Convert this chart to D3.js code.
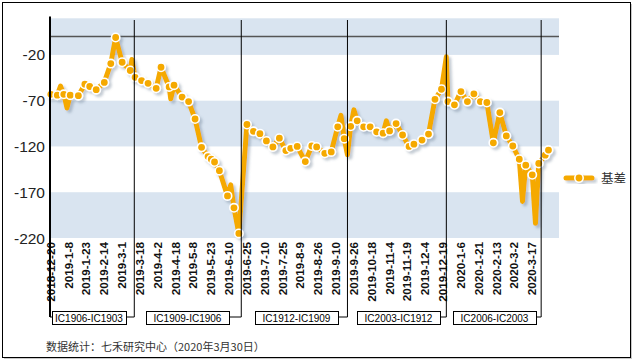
<!DOCTYPE html>
<html>
<head>
<meta charset="utf-8">
<script src="https://cdn.jsdelivr.net/npm/d3@7"></script>
<style>
  body { margin: 0; background: #fff; }
  svg { display: block; font-family: Arial, "Liberation Sans", sans-serif; }
</style>
</head>
<body>
<svg id="chart" width="636" height="362"></svg>
<script>
// 交易日序号（从2018-12-20起）
const dayCount = 314;

// x轴标签（每11个交易日一个）
const tickLabels = ["2018-12-20", "2019-1-8", "2019-1-23", "2019-2-14", "2019-3-1", "2019-3-18",
  "2019-4-2", "2019-4-18", "2019-5-8", "2019-5-23", "2019-6-10", "2019-6-25", "2019-7-10",
  "2019-7-25", "2019-8-9", "2019-8-26", "2019-9-10", "2019-9-26", "2019-10-18", "2019-11-4",
  "2019-11-19", "2019-12-4", "2019-12-19", "2020-1-6", "2020-1-21", "2020-2-13", "2020-3-2",
  "2020-3-17"];
const yTicks = [-220, -170, -120, -70, -20];

// 带标记的基差点
const markDay = [0, 4, 8, 12, 17, 21, 24, 28, 33, 37, 40, 44, 49, 52, 56, 60, 65, 68, 73, 76,
  81, 85, 89, 93, 97, 99, 101, 104, 109, 113, 116, 121, 125, 129, 133, 137, 141, 145, 148, 152,
  157, 161, 164, 169, 173, 177, 181, 185, 189, 193, 197, 201, 205, 209, 213, 217, 221, 224, 229, 233,
  237, 241, 245, 249, 253, 257, 261, 265, 269, 273, 277, 281, 285, 289, 293, 297, 301, 305, 307];
const markVal = [-63, -64, -63, -64, -64.5, -52, -54.5, -58, -50, -29.5, -1, -28, -37, -44.5, -48,
  -51, -56.5, -33.5, -55, -53, -66, -71, -90, -121, -131, -134, -137, -146.5, -174, -187,
  -215, -96, -103.5, -106, -114, -120.5, -111, -124.5, -122, -120, -136.5, -119.5, -120.5, -127.5, -126,
  -98.5, -111.5, -98, -92, -98.5, -98.5, -104, -105.5, -103, -95, -107.5, -120, -117.5, -113, -106.5,
  -68.5, -57.5, -71, -74.5, -60, -71, -62.5, -71, -72, -116, -83, -108.5, -119.5, -134, -140.5,
  -151, -138.5, -129.5, -124];

// 线上无标记的尖峰点
const spikeDay = [6, 10, 50, 74, 111, 179, 183, 187, 207, 244, 291, 299];
const spikeVal = [-54, -78, -25, -68, -162, -86, -129, -80, -92, -22, -180, -204];

// 合约切换分隔线（交易日序号）及标签
const rollDay = [51.5, 117.5, 183, 244, 302.5];
const rollLabels = ["IC1906-IC1903", "IC1909-IC1906", "IC1912-IC1909", "IC2003-IC1912", "IC2006-IC2003"];
const boxLeft = [52, 146, 255, 357, 453];

const orange = "#F5A900";
const svg = d3.select("#chart");

const plotL = 50, plotR = 559, plotT = 18.3, plotB = 238;
const x = d3.scaleLinear().domain([-0.5, dayCount - 0.5]).range([plotL, plotR]);
const y = d3.scaleLinear().domain([-220, 20]).range([plotB, plotT]);

const defs = svg.append("defs");
const f = defs.append("filter").attr("id", "shadow")
  .attr("x", "-10%").attr("y", "-10%").attr("width", "130%").attr("height", "130%");
f.append("feDropShadow").attr("dx", 2.5).attr("dy", 2.5).attr("stdDeviation", 0.8)
  .attr("flood-color", "#5a6e85").attr("flood-opacity", 0.35);

// 外框
svg.append("rect").attr("x", 4).attr("y", 4).attr("width", 628).attr("height", 355).attr("fill", "#c8c8c8");
svg.append("rect").attr("x", 2.5).attr("y", 2.5).attr("width", 628).attr("height", 355)
  .attr("fill", "#fff").attr("stroke", "#000").attr("stroke-width", 1);

// 背景条带
const bandEdges = [-220, -170, -120, -70, -20, 20];
for (let k = 0; k < bandEdges.length - 1; k += 2) {
  svg.append("rect")
    .attr("x", plotL).attr("width", plotR - plotL)
    .attr("y", y(bandEdges[k + 1])).attr("height", y(bandEdges[k]) - y(bandEdges[k + 1]))
    .attr("fill", "#D9E4F0");
}

// y轴刻度
svg.append("g").selectAll("text").data(yTicks).join("text")
  .attr("x", 45).attr("y", d => y(d)).attr("dy", "0.36em")
  .attr("text-anchor", "end").attr("font-size", 15.5).attr("fill", "#222")
  .text(d => d);

// 零线
svg.append("line").attr("x1", plotL).attr("x2", plotR).attr("y1", y(0)).attr("y2", y(0))
  .attr("stroke", "#555").attr("stroke-width", 1.5);

// x轴标签
svg.append("g").selectAll("text").data(tickLabels).join("text")
  .attr("transform", (d, k) => `translate(${x(k * 11) + 4},242) rotate(-90)`)
  .attr("text-anchor", "end").attr("font-size", 11.7).attr("font-weight", "bold").attr("fill", "#111")
  .text(d => d);

// 基差线
const pts = markDay.map((d, k) => [d, markVal[k]])
  .concat(spikeDay.map((d, k) => [d, spikeVal[k]]))
  .sort((a, b) => a[0] - b[0]);

const g = svg.append("g").attr("filter", "url(#shadow)");
g.append("path").datum(pts)
  .attr("d", d3.line().x(d => x(d[0])).y(d => y(d[1])))
  .attr("fill", "none").attr("stroke", orange).attr("stroke-width", 5)
  .attr("stroke-linejoin", "round").attr("stroke-linecap", "round");
g.selectAll("circle").data(markDay).join("circle")
  .attr("cx", d => x(d)).attr("cy", (d, k) => y(markVal[k])).attr("r", 4.2)
  .attr("fill", orange).attr("stroke", "#fff").attr("stroke-width", 1.6);

// y轴
svg.append("line").attr("x1", plotL).attr("x2", plotL).attr("y1", 16.5).attr("y2", 317)
  .attr("stroke", "#000").attr("stroke-width", 2);

// 合约分隔线与标注框
rollDay.forEach((d, k) => {
  const xs = x(d);
  svg.append("line").attr("x1", xs).attr("x2", xs).attr("y1", 20).attr("y2", 317)
    .attr("stroke", "#000").attr("stroke-width", 1);
  const bw = k === 0 ? 74 : 83;
  svg.append("line").attr("x1", boxLeft[k] + bw).attr("x2", xs).attr("y1", 317).attr("y2", 317)
    .attr("stroke", "#000").attr("stroke-width", 1);
  svg.append("rect").attr("x", boxLeft[k] + 0.5).attr("y", 311.5).attr("width", bw).attr("height", 13)
    .attr("fill", "#fff").attr("stroke", "#000").attr("stroke-width", 1);
  svg.append("text").attr("x", boxLeft[k] + bw / 2).attr("y", 318).attr("dy", "0.35em")
    .attr("text-anchor", "middle").attr("font-size", 10).attr("fill", "#000")
    .text(rollLabels[k]);
});
svg.append("line").attr("x1", plotL).attr("x2", boxLeft[0]).attr("y1", 317).attr("y2", 317)
  .attr("stroke", "#000");

// 图例
const lg = svg.append("g").attr("filter", "url(#shadow)");
lg.append("line").attr("x1", 566).attr("x2", 592).attr("y1", 178).attr("y2", 178)
  .attr("stroke", orange).attr("stroke-width", 5).attr("stroke-linecap", "round");
lg.append("circle").attr("cx", 579).attr("cy", 178).attr("r", 4.2)
  .attr("fill", orange).attr("stroke", "#fff").attr("stroke-width", 1.6);
svg.append("text").attr("x", 601).attr("y", 178).attr("dy", "0.36em")
  .attr("font-size", 12.5).attr("fill", "#333")
  .attr("font-family", "'Noto Sans CJK SC', sans-serif").text("基差");

// 数据来源
svg.append("text").attr("x", 46).attr("y", 347).attr("dy", "0.35em")
  .attr("font-size", 11).attr("fill", "#333")
  .attr("font-family", "'Noto Sans CJK SC', sans-serif")
  .text("数据统计：七禾研究中心（2020年3月30日）");
</script>
</body>
</html>
